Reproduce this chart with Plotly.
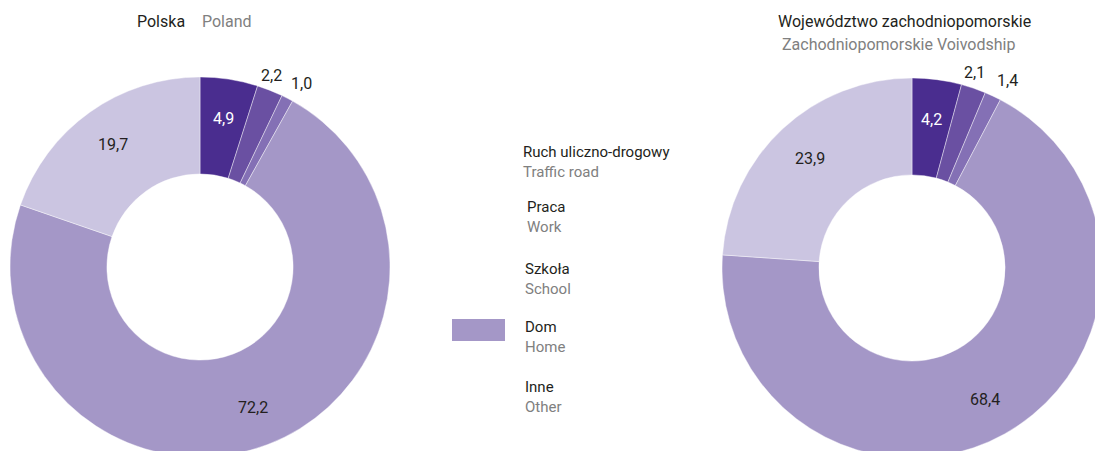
import math
import plotly.graph_objects as go

categories_pl = ["Ruch uliczno-drogowy", "Praca", "Szkoła", "Dom", "Inne"]
categories_en = ["Traffic road", "Work", "School", "Home", "Other"]
poland_values = [4.9, 2.2, 1.0, 72.2, 19.7]
zach_values = [4.2, 2.1, 1.4, 68.4, 23.9]
colors = ["#4a2d8f", "#6a50a2", "#8470b5", "#a497c7", "#cbc5e1"]
# label placement per slice: inside, or outside with horizontal anchor
label_anchor = ["inside", "center", "left", "inside", "inside"]
text_colors = ["#ffffff", "#231f20", "#231f20", "#231f20", "#231f20"]

FONT = "Roboto, sans-serif"
W, H = 1110, 460
GRAY = "#808080"
DARK = "#231f20"


def px(x):
    return x / W


def py(y):
    return 1 - y / H


def fmt(v):
    return f"{v:.1f}".replace(".", ",")


fig = go.Figure()
ann = []


def add_pie(values, cx, cy, r, name):
    fig.add_trace(go.Pie(
        labels=categories_pl,
        values=values,
        textinfo="none",
        marker=dict(colors=colors, line=dict(color="rgba(255,255,255,0.6)", width=0.7)),
        hole=0.49,
        sort=False,
        direction="clockwise",
        rotation=0,
        domain=dict(x=[px(cx - r), px(cx + r)], y=[py(cy + r), py(cy - r)]),
        showlegend=False,
        name=name,
        hoverinfo="label+value",
    ))
    total = sum(values)
    cum = 0.0
    for v, anc, tc in zip(values, label_anchor, text_colors):
        mid = (cum + v / 2) / total * 2 * math.pi
        cum += v
        if anc == "inside":
            rr = r * 0.79
            ann.append(dict(x=px(cx + rr * math.sin(mid)), y=py(cy - rr * math.cos(mid)),
                            text=fmt(v), yanchor="middle", font=dict(color=tc, size=16)))
        else:
            rr = r + 4
            ann.append(dict(x=px(cx + rr * math.sin(mid)), y=py(cy - rr * math.cos(mid)),
                            text=fmt(v), xanchor=anc, yanchor="bottom",
                            font=dict(color=tc, size=16)))


add_pie(poland_values, 200, 267, 190, "Polska")
add_pie(zach_values, 912, 268, 190, "Województwo zachodniopomorskie")

# Titles
ann.append(dict(x=px(161), y=py(22), text="Polska", font=dict(color=DARK, size=16)))
ann.append(dict(x=px(227), y=py(22), text="Poland", font=dict(color=GRAY, size=16)))
ann.append(dict(x=px(904), y=py(22), text="Województwo zachodniopomorskie", font=dict(color=DARK, size=16)))
ann.append(dict(x=px(898), y=py(44), text="Zachodniopomorskie Voivodship", font=dict(color=GRAY, size=16)))

# Legend text
leg_y = [152, 207, 269, 327, 387]
leg_x = [521, 525, 523, 523, 523]
for pl, en, x0, y0 in zip(categories_pl, categories_en, leg_x, leg_y):
    ann.append(dict(x=px(x0), y=py(y0), text=pl, xanchor="left", font=dict(color=DARK, size=15)))
    ann.append(dict(x=px(x0), y=py(y0 + 20), text=en, xanchor="left", font=dict(color=GRAY, size=15)))

for a in ann:
    a.setdefault("xanchor", "center")
    a.setdefault("yanchor", "middle")
    a["xref"] = "paper"
    a["yref"] = "paper"
    a["showarrow"] = False
    a["font"] = dict(family=FONT, **a["font"])

fig.update_layout(
    width=W,
    height=H,
    margin=dict(l=0, r=0, t=0, b=0),
    paper_bgcolor="white",
    plot_bgcolor="white",
    annotations=ann,
    shapes=[dict(type="rect", xref="paper", yref="paper",
                 x0=px(452), x1=px(505), y0=py(341), y1=py(319),
                 fillcolor=colors[3], line=dict(width=0))],
)

fig.write_html(
    "out.html",
    config={"displayModeBar": False},
    post_script="document.body.style.margin='0';document.body.style.overflow='hidden';",
)
